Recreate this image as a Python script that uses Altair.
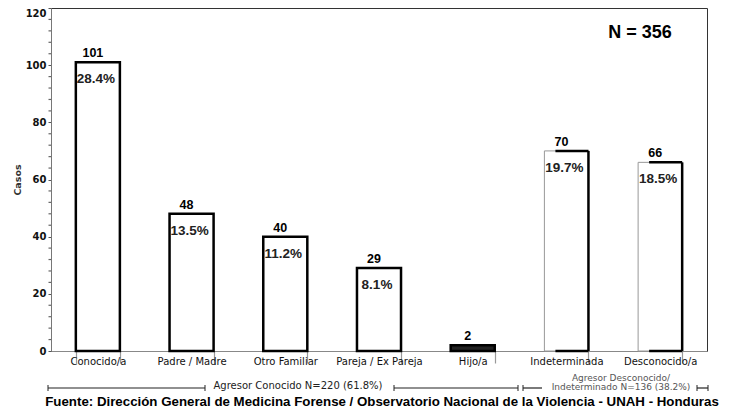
import altair as alt
import pandas as pd

categorias = ["Conocido/a", "Padre / Madre", "Otro Familiar", "Pareja / Ex Pareja",
              "Hijo/a", "Indeterminada", "Desconocido/a"]
casos = [101, 48, 40, 29, 2, 70, 66]
porcentajes = ["28.4%", "13.5%", "11.2%", "8.1%", "", "19.7%", "18.5%"]
grupo = ["conocido", "conocido", "conocido", "conocido", "conocido",
         "desconocido", "desconocido"]
ticks_y = [0, 20, 40, 60, 80, 100, 120]
ticks_menores = [v for v in range(0, 121, 4) if v % 20 != 0]

df = pd.DataFrame({"cat": categorias, "casos": casos, "pct": porcentajes, "grupo": grupo})
df_minor = pd.DataFrame({"v": ticks_menores})
df_one = pd.DataFrame({"a": [0]})

PAD_IN = 0.53
xscale = alt.Scale(paddingInner=PAD_IN, paddingOuter=PAD_IN / 2)
yscale = alt.Scale(domain=[0, 120], nice=False)
PLOT_W = 656
half_bw = PLOT_W / len(categorias) * (1 - PAD_IN) / 2

x_axis = alt.Axis(labelAngle=0, labelFont="DejaVu Sans", labelFontSize=10,
                  labelColor="#111", tickBand="extent", tickSize=12,
                  tickColor="#999", tickWidth=1.2, domainColor="#888", labelPadding=-7,
                  labelLimit=200)
y_axis = alt.Axis(values=ticks_y, tickSize=3, tickColor="#555",
                  domainColor="#777", labelFont="DejaVu Sans",
                  labelFontWeight="bold", labelFontSize=10, labelColor="#111",
                  labelPadding=2, grid=False,
                  labelBaseline={"condition": {"test": "datum.value == 120", "value": "top"}, "value": "middle"},
                  titleFont="DejaVu Sans", titleFontSize=9.5,
                  titleFontWeight="bold", titleColor="#333", titlePadding=3)


def X():
    return alt.X("cat:N", sort=categorias, scale=xscale, title=None, axis=x_axis)


def Y(field="casos:Q"):
    return alt.Y(field, scale=yscale, title="Casos", axis=y_axis)


base = alt.Chart(df)

bars_known = base.transform_filter("datum.grupo == 'conocido'").mark_bar(
    stroke="black", strokeWidth=2.5).encode(
    x=X(), y=Y(),
    fill=alt.condition("datum.casos < 5", alt.value("#222"), alt.value("white")))

bars_unknown = base.transform_filter("datum.grupo == 'desconocido'").mark_bar(
    fill="white", stroke="#999", strokeWidth=1).encode(x=X(), y=Y())

unk = base.transform_filter("datum.grupo == 'desconocido'")
right_edge = unk.mark_rule(color="black", strokeWidth=2.5, xOffset=half_bw).encode(
    x=X(), y=Y(), y2=alt.datum(0))
top_edge = unk.mark_tick(color="black", thickness=2.5, size=half_bw * 1.5,
                         xOffset=half_bw * 0.25, opacity=1).encode(x=X(), y=Y())
bottom_edge = unk.mark_tick(color="black", thickness=2.5, size=half_bw * 1.5,
                            xOffset=half_bw * 0.25, opacity=1).encode(
    x=X(), y=alt.datum(0, scale=yscale, title="Casos", axis=y_axis))

val_labels = base.mark_text(font="Liberation Sans", fontWeight="bold", fontSize=12.5,
                            color="black", baseline="alphabetic", dy=-5, dx=-5).encode(
    x=X(), y=Y(), text="casos:Q")

pct_labels = base.transform_filter("datum.pct != ''").mark_text(
    font="Liberation Sans", fontWeight="bold", fontSize=13.5, color="#222",
    baseline="middle", dy=17, dx=-2).encode(x=X(), y=Y(), text="pct:N")

minor = alt.Chart(df_minor).mark_rule(color="#666", strokeWidth=1.2).encode(
    x=alt.value(-2.5), x2=alt.value(0), y=Y("v:Q"))

one = alt.Chart(df_one)
n_text = one.mark_text(font="Liberation Sans", fontWeight="bold", fontSize=18,
                       color="black", baseline="middle", align="center").encode(
    x=alt.value(589), y=alt.value(25), text=alt.value("N = 356"))

line_y = 380
segs = [(-3, 154), (343, 467), (472, 491), (646, 657)]
vticks = [-3, 154, 343, 467, 472, 646, 657]
deco = []
for x1, x2 in segs:
    deco.append(one.mark_rule(color="#222", strokeWidth=1.2).encode(
        x=alt.value(x1), x2=alt.value(x2), y=alt.value(line_y)))
for xv in vticks:
    deco.append(one.mark_rule(color="#222", strokeWidth=1).encode(
        x=alt.value(xv), y=alt.value(line_y - 3), y2=alt.value(line_y + 3)))

txt1 = one.mark_text(font="DejaVu Sans", fontSize=10, color="#222",
                     baseline="middle", align="center").encode(
    x=alt.value(247), y=alt.value(378), text=alt.value("Agresor Conocido N=220 (61.8%)"))
txt2 = one.mark_text(font="DejaVu Sans", fontSize=9, color="#555",
                     baseline="middle", align="center").encode(
    x=alt.value(570), y=alt.value(370), text=alt.value("Agresor Desconocido/"))
txt3 = one.mark_text(font="DejaVu Sans", fontSize=9, color="#555",
                     baseline="middle", align="center").encode(
    x=alt.value(570), y=alt.value(379), text=alt.value("Indeterminado N=136 (38.2%)"))
footer = one.mark_text(font="Liberation Sans", fontWeight="bold", fontSize=13.3,
                       color="black", baseline="alphabetic", align="center").encode(
    x=alt.value(331), y=alt.value(398),
    text=alt.value("Fuente: Dirección General de Medicina Forense / Observatorio Nacional de la Violencia - UNAH - Honduras"))

chart = alt.layer(bars_known, bars_unknown, right_edge, top_edge, bottom_edge,
                  val_labels, pct_labels, minor, n_text, *deco, txt1, txt2, txt3, footer
                  ).properties(
    width=PLOT_W, height=343,
    autosize=alt.AutoSizeParams(type="none"),
    padding={"left": 43, "top": 0, "right": 18, "bottom": 57},
    background="white",
).configure_view(stroke="#333", strokeWidth=1)

chart.save("out.html", embed_options={"renderer": "svg", "actions": False})
